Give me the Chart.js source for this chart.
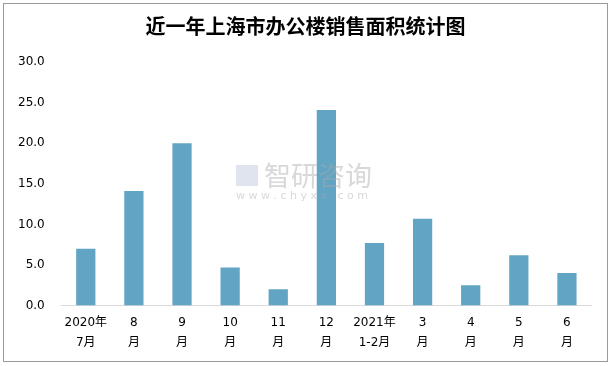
<!DOCTYPE html>
<html>
<head>
<meta charset="utf-8">
<script src="https://cdn.jsdelivr.net/npm/chart.js@4"></script>
<style>
  html, body { margin: 0; padding: 0; background: #fff; }
  #wrap { width: 611px; height: 366px; position: relative; }
</style>
</head>
<body>
<div id="wrap"><canvas id="grafico" width="611" height="366"></canvas></div>
<script>
// Datos del gráfico
const titulo = '近一年上海市办公楼销售面积统计图';
const meses = [['2020年', '7月'], ['8', '月'], ['9', '月'], ['10', '月'], ['11', '月'], ['12', '月'],
  ['2021年', '1-2月'], ['3', '月'], ['4', '月'], ['5', '月'], ['6', '月']];
const superficie = [7.0, 14.1, 20.0, 4.7, 2.0, 24.1, 7.7, 10.7, 2.5, 6.2, 4.0];
const ticksY = [0, 5, 10, 15, 20, 25, 30];

// Marco exterior y marca de agua
const marco = {
  id: 'marco',
  afterDraw(chart) {
    const ctx = chart.ctx;
    ctx.save();
    // marca de agua
    ctx.globalAlpha = 0.45;
    ctx.fillStyle = '#a8a8a8';
    ctx.font = '27px "Noto Sans CJK SC"';
    ctx.textBaseline = 'middle';
    ctx.fillText('智研咨询', 264, 176);
    ctx.fillStyle = '#b8c4dc';
    ctx.fillRect(236, 165, 22, 21);
    ctx.fillStyle = '#a8a8a8';
    ctx.font = '11px "DejaVu Sans"';
    ctx.fillText('w w w . c h y x x . c o m', 236, 196);
    ctx.restore();

    ctx.save();
    ctx.strokeStyle = '#9a9a9a';
    ctx.lineWidth = 1;
    ctx.strokeRect(3.5, 3.5, 604, 358);
    ctx.restore();
  }
};

new Chart(document.getElementById('grafico'), {
  type: 'bar',
  data: {
    labels: meses,
    datasets: [{
      data: superficie,
      backgroundColor: '#62a4c3',
      categoryPercentage: 1,
      barPercentage: 0.4
    }]
  },
  options: {
    responsive: false,
    animation: false,
    layout: { padding: { left: 1, right: 1, top: 0, bottom: 6 } },
    plugins: {
      legend: { display: false },
      tooltip: { enabled: false },
      title: {
        display: true,
        text: titulo,
        color: '#000',
        font: { family: '"Noto Sans CJK SC"', size: 20, weight: 'bold' },
        padding: { top: 14, bottom: 24 }
      }
    },
    scales: {
      x: {
        grid: { display: false, drawTicks: false },
        border: { color: '#d9d9d9', width: 1 },
        ticks: {
          color: '#000',
          font: { family: '"DejaVu Sans", "Noto Sans CJK SC"', size: 12, lineHeight: 1.6 },
          padding: 8,
          maxRotation: 0,
          autoSkip: false
        }
      },
      y: {
        min: 0,
        max: 30,
        afterBuildTicks(axis) { axis.ticks = ticksY.map(v => ({ value: v })); },
        grid: { display: false, drawTicks: false },
        border: { display: false },
        ticks: {
          color: '#000',
          font: { family: '"DejaVu Sans"', size: 12 },
          padding: 17,
          callback: v => v.toFixed(1)
        }
      },
      // eje vacío a la derecha para dejar margen sin descentrar el título
      yDer: {
        position: 'right',
        display: true,
        grid: { display: false, drawTicks: false },
        border: { display: false },
        ticks: { display: false },
        afterFit(axis) { axis.width = 19; }
      }
    }
  },
  plugins: [marco]
});
</script>
</body>
</html>
